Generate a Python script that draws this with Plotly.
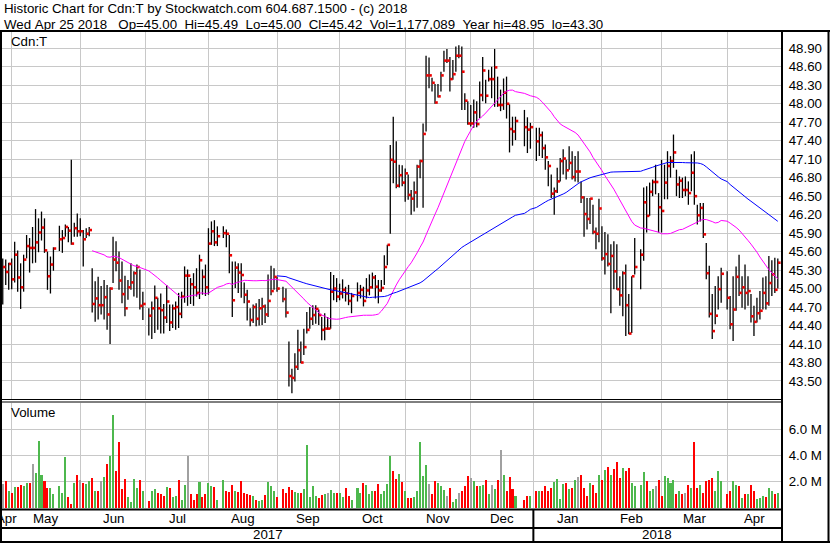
import numpy as np
import pandas as pd
import plotly.graph_objects as go

# ---------------- data ----------------
holidays = ["2017-05-22", "2017-07-03", "2017-08-07", "2017-09-04", "2017-10-09",
            "2017-12-25", "2017-12-26", "2018-01-01", "2018-02-19", "2018-03-30"]
first_day, last_day = "2017-04-26", "2018-04-25"

close = [
    45.35, 45.27, 45.40,
    45.15, 45.55, 45.18, 45.02, 45.47, 45.69, 45.66, 45.66, 45.75, 45.91, 45.99, 45.62, 45.20, 45.39, 45.65,
    45.80, 45.82, 46.00, 45.94, 45.73, 45.98, 45.93,
    45.93, 45.80, 45.89, 45.95, 44.75, 44.84, 44.73, 44.73, 44.86, 44.58, 45.00, 45.47, 45.42, 45.13, 44.91,
    44.68, 45.02, 45.10, 45.25, 45.35, 44.72, 44.75,
    44.56, 44.68, 44.85, 44.68, 44.65, 44.53, 44.79, 44.45, 44.68, 44.70, 44.59, 44.87, 45.21, 45.21, 45.07,
    45.02, 44.93, 45.46, 45.19, 45.02,
    45.73, 45.93, 45.75, 45.85,
    45.90, 45.89, 45.54, 44.81, 45.34, 45.26, 45.22, 44.90, 44.79, 44.49, 44.70, 44.51, 44.68, 44.71, 44.58,
    44.80, 44.96, 45.19,
    45.00,
    44.83, 44.61, 43.58, 43.55, 43.73, 44.00, 43.80, 44.05, 44.33, 44.51, 44.57, 44.67, 44.57, 44.33, 44.35,
    44.35, 44.95, 45.00, 44.87,
    44.92, 44.98, 44.92, 44.80, 44.88,
    44.93, 44.98, 44.80, 44.97, 45.02, 45.18, 45.03, 44.97, 45.01, 45.35, 45.71, 47.09, 47.06, 46.67, 46.84, 46.72,
    46.87, 46.52, 46.46, 46.56, 46.98, 47.07, 47.51, 48.46, 48.46, 48.34, 48.02, 48.12, 48.46, 48.70, 48.70,
    48.40, 48.48, 48.78, 48.78, 48.52, 48.05, 47.68,
    47.68, 47.86, 47.67, 48.14, 48.54, 48.13, 48.40, 48.40, 48.59, 47.98, 47.98, 48.18, 48.00, 47.59, 47.55, 47.72,
    47.62, 47.58, 47.62,
    47.39, 47.49, 47.28, 47.13, 46.99, 46.54, 46.58, 46.74, 47.07, 47.11, 46.92, 47.04, 46.81, 46.90, 46.90,
    46.48, 46.21, 46.13, 46.46, 45.92, 45.89, 46.30,
    45.49, 45.56, 45.40, 45.53, 45.28, 44.99, 44.89, 45.25, 44.73, 44.27, 45.20, 45.35,
    45.55, 46.40, 46.18, 46.57, 46.73, 46.73, 46.32,
    46.26, 46.72, 46.99, 47.07, 47.21, 46.69, 46.75, 46.60, 46.60, 46.55, 46.88, 46.50, 46.19, 46.31, 45.88,
    45.25, 44.59, 44.31, 44.56, 44.99, 45.24,
    44.85, 44.42, 44.66, 45.19, 44.93, 45.02, 44.93, 44.96, 44.55, 44.46, 44.60, 44.64, 44.93, 44.76, 45.09,
    45.23, 44.98, 45.42,
]

high = [
    45.49, 45.47, 45.42,
    45.49, 45.76, 45.62, 45.41, 45.55, 45.87, 45.82, 46.00, 46.29, 46.14, 46.25, 46.14, 45.60, 45.52, 45.67,
    46.02, 45.95, 46.04, 46.00, 47.09, 46.07, 46.22,
    46.14, 45.95, 45.98, 46.00, 45.33, 45.12, 45.19, 45.04, 45.14, 45.06, 45.02, 45.84, 45.77, 45.60, 45.44,
    45.21, 45.14, 45.41, 45.28, 45.39, 45.31, 44.95,
    44.68, 44.79, 45.05, 44.85, 44.92, 44.75, 45.06, 44.74, 44.74, 44.79, 44.93, 44.95, 45.36, 45.31, 45.17,
    45.25, 45.33, 45.55, 45.31, 45.39,
    45.98, 46.09, 46.11, 46.01,
    46.01, 45.96, 45.87, 45.44, 45.44, 45.41, 45.41, 45.10, 44.98, 44.68, 44.74, 44.76, 44.83, 44.85, 44.74,
    45.23, 45.37, 45.33,
    45.19,
    45.03, 45.00, 44.14, 43.70, 43.95, 44.33, 44.14, 44.35, 44.62, 44.70, 44.73, 44.73, 44.66, 44.54, 44.60,
    44.54, 45.27, 45.22, 45.17,
    45.08, 45.15, 45.03, 45.06, 44.93,
    45.10, 45.06, 45.03, 45.17, 45.23, 45.26, 45.22, 45.14, 45.14, 45.54, 45.71, 47.33, 47.79, 47.39, 47.01, 47.00,
    46.95, 46.85, 46.60, 46.74, 47.01, 47.09, 47.68, 48.78, 48.75, 48.42, 48.32, 48.32, 48.52, 48.86, 48.89,
    48.76, 48.71, 48.93, 48.95, 48.93, 48.17, 48.04,
    47.98, 48.07, 48.04, 48.36, 48.76, 48.39, 48.55, 48.60, 48.89, 48.44, 48.23, 48.41, 48.44, 47.99, 47.79, 47.79,
    47.90, 47.78, 47.69,
    47.61, 47.61, 47.55, 47.34, 47.07, 46.85, 46.64, 46.96, 47.12, 47.26, 47.09, 47.31, 47.23, 47.15, 47.23,
    46.74, 46.50, 46.47, 46.47, 46.36, 45.99, 46.46,
    46.01, 45.92, 45.88, 45.72, 45.77, 45.72, 45.20, 45.28, 45.39, 44.91, 45.20, 45.82,
    45.64, 46.64, 46.66, 46.72, 46.77, 47.01, 46.55,
    47.09, 47.01, 47.23, 47.15, 47.50, 46.93, 46.82, 46.80, 46.82, 46.74, 47.18, 47.23, 46.36, 46.39, 46.39,
    45.74, 45.37, 44.91, 45.04, 45.20, 45.34,
    45.28, 44.88, 45.20, 45.36, 45.55, 45.20, 45.39, 45.20, 44.91, 44.72, 44.85, 44.96, 45.18, 45.20, 45.53,
    45.46, 45.50, 45.49,
]

low = [
    44.74, 45.06, 44.98,
    44.99, 45.10, 44.95, 44.67, 44.95, 45.49, 45.26, 45.41, 45.42, 45.59, 45.78, 45.58, 44.98, 44.92, 45.29,
    45.61, 45.58, 45.84, 45.75, 45.71, 45.84, 45.84,
    45.85, 45.36, 45.82, 45.85, 44.61, 44.46, 44.50, 44.58, 44.50, 44.33, 44.10, 45.09, 45.28, 44.98, 44.76,
    44.55, 44.82, 44.98, 44.87, 44.85, 44.66, 44.49,
    44.24, 44.18, 44.28, 44.33, 44.27, 44.27, 44.44, 44.31, 44.36, 44.33, 44.36, 44.52, 44.77, 44.72, 44.75,
    44.72, 44.87, 44.83, 44.90, 44.88,
    44.90, 45.71, 45.69, 45.69,
    45.82, 45.67, 45.25, 44.54, 45.01, 44.93, 44.85, 44.76, 44.48, 44.39, 44.44, 44.39, 44.40, 44.41, 44.44,
    44.54, 44.89, 44.98,
    44.95,
    44.78, 44.53, 43.41, 43.30, 43.49, 43.68, 43.79, 43.92, 44.27, 44.35, 44.41, 44.43, 44.41, 44.16, 44.16,
    44.33, 44.35, 44.81, 44.78,
    44.81, 44.84, 44.79, 44.73, 44.60,
    44.79, 44.84, 44.71, 44.84, 44.89, 45.00, 44.84, 44.76, 44.95, 45.06, 45.38, 45.89, 46.71, 46.63, 46.64, 46.66,
    46.41, 46.44, 46.20, 46.25, 46.31, 46.79, 46.31, 47.55, 48.25, 48.20, 48.00, 48.10, 48.20, 48.52, 48.66,
    48.20, 48.39, 48.52, 48.74, 47.90, 47.90, 47.66,
    47.63, 47.61, 47.62, 47.77, 48.04, 48.01, 48.36, 48.09, 47.95, 47.95, 47.88, 47.90, 47.76, 47.21, 47.32, 47.41,
    47.31, 47.20, 47.27,
    47.07, 47.15, 47.12, 46.93, 46.66, 46.47, 46.20, 46.55, 46.74, 46.85, 46.77, 46.93, 46.77, 46.74, 46.72,
    46.39, 45.84, 45.96, 46.05, 45.88, 45.64, 45.75,
    45.45, 45.23, 45.36, 44.60, 44.99, 44.98, 44.72, 44.55, 44.23, 44.26, 44.28, 45.23,
    44.99, 45.45, 45.91, 46.18, 46.50, 46.53, 45.91,
    45.91, 46.45, 46.45, 46.80, 46.96, 46.50, 46.47, 46.47, 46.50, 46.36, 46.58, 46.36, 46.04, 46.09, 45.82,
    45.15, 44.53, 44.18, 44.42, 44.66, 44.77,
    44.66, 44.34, 44.15, 44.64, 44.88, 44.69, 44.66, 44.72, 44.45, 44.23, 44.45, 44.50, 44.66, 44.66, 44.72,
    44.88, 44.93, 45.00,
]

# volume, millions of shares
volume_m = [
    1.85, 2.03, 1.33,
    1.13, 1.59, 1.59, 1.72, 1.69, 1.87, 1.87, 3.33, 2.67, 5.10, 2.49, 2.03, 1.51, 1.49, 1.05,
    1.64, 1.18, 3.87, 0.82, 0.28, 1.87, 2.49,
    2.13, 1.87, 1.82, 2.03, 2.28, 1.33, 1.33, 2.03, 2.33, 3.33, 3.95, 7.10, 2.79, 5.03, 1.44,
    2.18, 0.82, 0.46, 2.18, 1.51, 2.13, 1.26,
    0.56, 1.26, 1.41, 1.18, 1.10, 0.95, 1.59, 1.49, 0.87, 0.95, 2.10, 0.62, 1.79, 3.95, 1.03,
    0.64, 1.03, 1.95, 0.87, 1.10,
    1.87, 1.64, 1.59, 0.64,
    2.10, 1.26, 1.20, 1.72, 1.26, 1.20, 2.03, 1.18, 1.10, 1.00, 0.95, 0.60, 0.54, 0.62, 1.00,
    1.95, 1.69, 1.31,
    0.87,
    1.44, 1.18, 1.59, 1.38, 1.20, 1.13, 1.18, 1.44, 4.80, 0.87, 1.64, 0.92, 0.74, 0.97, 1.08,
    1.13, 1.38, 1.18, 1.18,
    1.18, 0.87, 1.51, 0.95, 0.62,
    1.51, 1.13, 1.90, 1.72, 1.05, 1.26, 1.26, 1.82, 1.05, 1.33, 1.85, 4.00, 2.80, 2.20, 2.60, 1.95,
    1.33, 0.74, 0.75, 0.82, 1.26, 5.05, 2.41, 3.26, 1.82, 1.10, 2.03, 1.90, 1.64, 1.36, 0.95,
    1.56, 0.49, 0.72, 1.18, 1.26, 1.64, 2.41,
    2.26, 2.03, 1.64, 1.64, 1.79, 2.10, 1.10, 1.79, 1.41, 2.10, 4.41, 2.49, 1.26, 2.33, 1.41, 0.95,
    0.64, 0.95, 0.95,
    1.33, 1.26, 1.26, 1.64, 1.33, 1.56, 1.95, 2.18, 0.72, 1.80, 1.87, 1.41, 1.49, 2.10, 2.33,
    2.49, 1.49, 0.95, 1.87, 1.79, 1.18, 2.49,
    2.10, 2.87, 3.10, 2.49, 2.95, 3.49, 2.26, 3.03, 2.79, 3.03, 1.90, 1.70,
    1.72, 2.72, 2.03, 1.33, 1.41, 1.64, 2.10,
    0.95, 2.41, 2.26, 1.87, 2.10, 1.10, 1.26, 1.10, 1.18, 1.79, 1.50, 5.05, 1.49, 1.72, 1.18,
    2.03, 2.10, 2.26, 1.33, 2.79, 2.03,
    1.10, 1.26, 2.03, 1.79, 1.64, 0.79, 1.03, 1.03, 1.72, 1.33, 0.72, 0.79, 0.95, 0.87, 1.49,
    1.33, 1.10, 1.18,
]

price_ticks = [43.50, 43.80, 44.10, 44.40, 44.70, 45.00, 45.30, 45.60, 45.90, 46.20,
               46.50, 46.80, 47.10, 47.40, 47.70, 48.00, 48.30, 48.60, 48.90]
volume_ticks = [2.0, 4.0, 6.0]
ma_periods = [30, 90]

title_1 = "Historic Chart for Cdn:T by Stockwatch.com 604.687.1500 - (c) 2018"
title_2 = ("Wed Apr 25 2018   Op=45.00  Hi=45.49  Lo=45.00  Cl=45.42  "
           "Vol=1,177,089  Year hi=48.95  lo=43.30")

# ---------------- derived ----------------
weekdays = pd.bdate_range(first_day, last_day)
hol = set(pd.to_datetime(holidays))
slot_of = {d: k for k, d in enumerate(weekdays)}
dates = [d for d in weekdays if d not in hol]
x = np.array([slot_of[d] for d in dates], dtype=float)
assert len(dates) == len(close) == len(high) == len(low) == len(volume_m)

cl = pd.Series(close)
ma_short = cl.rolling(ma_periods[0]).mean()
ma_long = cl.rolling(ma_periods[1]).mean()

chg = cl.diff()
vol_colors = ["#A0A0A0" if (np.isnan(c) or abs(c) < 1e-9) else ("#4DB84D" if c > 0 else "#FF0000")
              for c in chg]

# month boundaries (first weekday slot of each month)
wk = weekdays.to_series()
firsts = wk.groupby(wk.dt.to_period("M")).first()
month_names = [p.strftime("%b") for p in firsts.index]
month_starts = [slot_of[d] for d in firsts.values[1:]]  # skip partial first month

# pixel geometry helpers
W, H = 830, 543
fx = lambda px: px / W
fy = lambda py: 1 - py / H
X_LEFT_PX, X_RIGHT_PX = 2, 781
SLOT_PX = 2.981
SLOT0_PX = 2.75
x_range = [(X_LEFT_PX - SLOT0_PX) / SLOT_PX, (X_RIGHT_PX - SLOT0_PX) / SLOT_PX]

# price scale: 48.90 at y=48.3px, 61.61 px per dollar
P_TOP, P_BOT = 32, 399
price_range = [48.9 - (P_BOT - 48.3) / 61.61, 48.9 - (P_TOP - 48.3) / 61.61]
V_TOP, V_BOT = 403, 508

font = "Liberation Sans, Arial, sans-serif"
FS = 13.3

fig = go.Figure()

# high-low bars
hx, hy = [], []
for xi, h, l in zip(x, high, low):
    hx += [xi, xi, None]
    hy += [l, h, None]
fig.add_trace(go.Scatter(x=hx, y=hy, mode="lines", line=dict(color="black", width=1.3),
                         hoverinfo="skip", xaxis="x", yaxis="y"))
# close ticks
fig.add_trace(go.Scatter(x=x + 0.5, y=close, mode="markers",
                         marker=dict(symbol="square", size=2.6, color="#EE0000", line=dict(width=0)),
                         hoverinfo="skip", xaxis="x", yaxis="y"))
# moving averages
fig.add_trace(go.Scatter(x=x, y=ma_short, mode="lines", line=dict(color="#FF00FF", width=1),
                         hoverinfo="skip", xaxis="x", yaxis="y"))
fig.add_trace(go.Scatter(x=x, y=ma_long, mode="lines", line=dict(color="#0000FF", width=1),
                         hoverinfo="skip", xaxis="x", yaxis="y"))
# volume
fig.add_trace(go.Bar(x=x, y=volume_m, marker=dict(color=vol_colors, line=dict(width=0)),
                     width=0.68, hoverinfo="skip", xaxis="x2", yaxis="y2"))

grid = "#C8C8C8"
xcommon = dict(range=x_range, domain=[fx(X_LEFT_PX), fx(X_RIGHT_PX)], tickmode="array",
               tickvals=month_starts, showticklabels=False, ticks="", showgrid=True,
               gridcolor=grid, gridwidth=1, zeroline=False, showline=False, fixedrange=True)
fig.update_layout(
    width=W, height=H, margin=dict(l=0, r=0, t=0, b=0),
    paper_bgcolor="white", plot_bgcolor="white", showlegend=False, bargap=0,
    font=dict(family=font, size=FS, color="black"),
    xaxis=dict(anchor="y", **xcommon),
    xaxis2=dict(anchor="y2", matches="x", **xcommon),
    yaxis=dict(domain=[fy(P_BOT), fy(P_TOP)], range=price_range, side="right", anchor="x",
               tickmode="array", tickvals=price_ticks, ticktext=[f"{v:.2f}" for v in price_ticks],
               showgrid=True, gridcolor=grid, gridwidth=1, zeroline=False, showline=False,
               ticks="outside", ticklen=4, tickcolor="rgba(0,0,0,0)",
               tickfont=dict(size=FS, family=font, color="black")),
    yaxis2=dict(domain=[fy(V_BOT), fy(V_TOP)], range=[0, 8.0], side="right", anchor="x2",
                tickmode="array", tickvals=volume_ticks, ticktext=[f"{v:.1f} M" for v in volume_ticks],
                showgrid=True, gridcolor=grid, gridwidth=1, zeroline=False, showline=False,
                ticks="outside", ticklen=4, tickcolor="rgba(0,0,0,0)",
                tickfont=dict(size=FS, family=font, color="black")),
)

# month / year labels
bounds = [x_range[0]] + month_starts + [x_range[1]]
ann = []
for name, a, b in zip(month_names, bounds[:-1], bounds[1:]):
    ann.append(dict(x=(a + b) / 2, xref="x", y=fy(518), yref="paper", text=name, showarrow=False,
                    xanchor="center", yanchor="middle", font=dict(size=FS, family=font, color="black")))
jan_slot = slot_of[firsts.values[list(firsts.index.month).index(1)]]
for yr, a, b in [("2017", x_range[0], jan_slot), ("2018", jan_slot, x_range[1])]:
    ann.append(dict(x=(a + b) / 2, xref="x", y=fy(534.5), yref="paper", text=yr, showarrow=False,
                    xanchor="center", yanchor="middle", font=dict(size=FS, family=font, color="black")))
ann.append(dict(x=fx(1.5), xref="paper", y=fy(8.5), yref="paper", text=title_1.replace(" ", "\u00a0"),
                showarrow=False, xanchor="left", yanchor="middle", font=dict(size=FS, family=font)))
ann.append(dict(x=fx(1.5), xref="paper", y=fy(24), yref="paper", text=title_2.replace(" ", "\u00a0"),
                showarrow=False, xanchor="left", yanchor="middle", font=dict(size=FS, family=font)))
ann.append(dict(x=fx(8.5), xref="paper", y=fy(41.5), yref="paper", text="Cdn:T",
                showarrow=False, xanchor="left", yanchor="middle", font=dict(size=FS, family=font)))
ann.append(dict(x=fx(8.5), xref="paper", y=fy(413), yref="paper", text="Volume",
                showarrow=False, xanchor="left", yanchor="middle", font=dict(size=FS, family=font)))
fig.update_layout(annotations=ann)

# frame lines
def hline(py, x0, x1, w):
    return dict(type="line", xref="paper", yref="paper", x0=fx(x0), x1=fx(x1), y0=fy(py), y1=fy(py),
                line=dict(color="black", width=w))

def vline(px, y0, y1, w):
    return dict(type="line", xref="paper", yref="paper", x0=fx(px), x1=fx(px), y0=fy(y0), y1=fy(y1),
                line=dict(color="black", width=w))

shapes = [
    hline(31, 0, W, 2),
    vline(1, 31, H, 2),
    vline(828.5, 31, H, 2),
    hline(542, 0, W, 2),
    vline(782, 31, H, 2),
    hline(399.5, 0, 782, 1),
    hline(402, 0, 782, 1),
    hline(509.5, 0, 782, 2),
    hline(528, 0, 782, 2),
    dict(type="line", xref="x", yref="paper", x0=jan_slot, x1=jan_slot, y0=fy(509.5), y1=fy(542),
         line=dict(color="black", width=2)),
]
fig.update_layout(shapes=shapes)

fig.write_html(
    "out.html",
    config={"displayModeBar": False, "staticPlot": True},
    post_script="document.body.style.margin='0px';document.body.style.padding='0px';"
                "document.documentElement.style.overflow='hidden';",
)
